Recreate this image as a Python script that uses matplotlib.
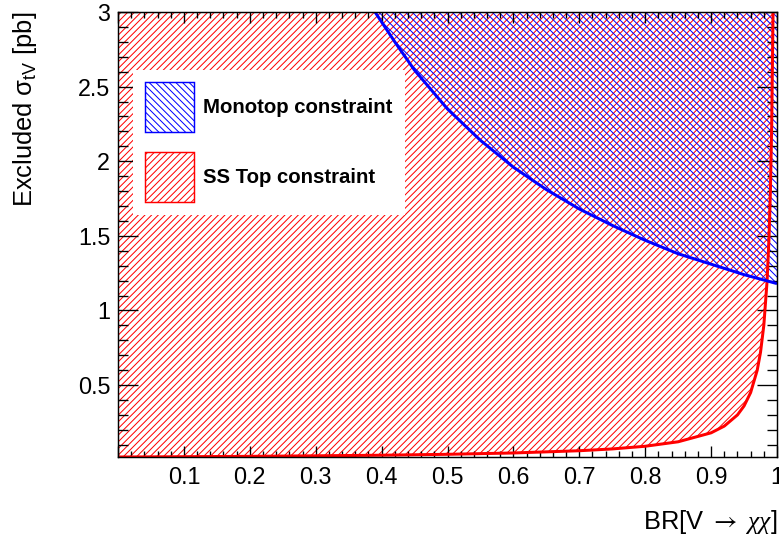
import numpy as np
import matplotlib
matplotlib.use('Agg')
import matplotlib.pyplot as plt
from matplotlib.patches import Patch
from matplotlib.ticker import MultipleLocator, FuncFormatter

plt.rcParams['font.family'] = ['Liberation Sans', 'DejaVu Sans']
plt.rcParams['mathtext.fontset'] = 'custom'
plt.rcParams['mathtext.rm'] = 'Liberation Sans'
plt.rcParams['mathtext.it'] = 'Liberation Serif:italic'
plt.rcParams['mathtext.cal'] = 'STIXGeneral'
plt.rcParams['hatch.linewidth'] = 0.9

# Monotop constraint (blue)
mono_br = [0.39, 0.42, 0.45, 0.50, 0.55, 0.60, 0.65, 0.70, 0.75, 0.80,
           0.85, 0.90, 0.95, 1.00]
mono_sigma = [3.00, 2.80, 2.61, 2.35, 2.14, 1.96, 1.81, 1.68, 1.57, 1.47,
              1.38, 1.31, 1.24, 1.18]

# SS top constraint (red)
ss_br = [0.0, 0.1, 0.2, 0.3, 0.4, 0.5, 0.6, 0.7, 0.75, 0.8, 0.85, 0.9,
         0.92, 0.94, 0.95, 0.96, 0.97, 0.975, 0.98, 0.985, 0.988, 0.99,
         0.992, 0.994]
ss_sigma = [0.018, 0.020, 0.0225, 0.026, 0.030, 0.036, 0.045, 0.060, 0.072,
            0.090, 0.120, 0.180, 0.225, 0.300, 0.360, 0.450, 0.600, 0.720,
            0.900, 1.200, 1.500, 1.800, 2.250, 3.000]

legend_labels = ['Monotop constraint', 'SS Top constraint']
y_top = 3.0

dpi = 80
fig = plt.figure(figsize=(779 / dpi, 539 / dpi), dpi=dpi)
ax = fig.add_axes([118 / 779, 82 / 539, 659 / 779, 445 / 539])

ax.fill_between(ss_br, ss_sigma, y_top, facecolor='none', edgecolor='red',
                hatch='////', linewidth=0)
ax.fill_between(mono_br, mono_sigma, y_top, facecolor='none', edgecolor='blue',
                hatch='\\\\\\\\', linewidth=0)
ax.plot(ss_br, ss_sigma, color='red', lw=2.7, solid_capstyle='butt')
ax.plot(mono_br, mono_sigma, color='blue', lw=2.7, solid_capstyle='butt')

ax.set_xlim(0, 1)
ax.set_ylim(0.018, 3)

ax.xaxis.set_major_locator(MultipleLocator(0.1))
ax.xaxis.set_minor_locator(MultipleLocator(0.02))
ax.yaxis.set_major_locator(MultipleLocator(0.5))
ax.yaxis.set_minor_locator(MultipleLocator(0.1))
# ROOT style: no label at 0
fmt = FuncFormatter(lambda v, p: '' if abs(v) < 1e-9 else '%g' % v)
ax.xaxis.set_major_formatter(fmt)
ax.yaxis.set_major_formatter(fmt)

ax.tick_params(which='both', direction='in', top=True, right=True,
               width=1.2, labelsize=21)
ax.tick_params(axis='x', which='major', length=10, pad=8)
ax.tick_params(axis='x', which='minor', length=5)
ax.tick_params(axis='y', which='major', length=18, pad=7)
ax.tick_params(axis='y', which='minor', length=9)
for s in ax.spines.values():
    s.set_linewidth(1.3)

ax.set_xlabel(r'BR[V $\mathcal{\rightarrow}$ $\chi\chi$]', loc='right',
              fontsize=23)
ax.xaxis.set_label_coords(1.0, -0.115)
ax.set_ylabel(r'Excluded $\mathrm{\sigma_{tV}}$ [pb]', loc='top', fontsize=23)
ax.yaxis.set_label_coords(-0.12, 1.0)

handles = [Patch(facecolor='white', edgecolor='blue', hatch='\\\\\\\\', lw=1.3),
           Patch(facecolor='white', edgecolor='red', hatch='////', lw=1.3)]
leg = ax.legend(handles, legend_labels,
                loc='upper left', bbox_to_anchor=(15 / 659, 387 / 445),
                borderaxespad=0, prop={'weight': 'bold', 'size': 18.3},
                handlelength=2.4, handleheight=3.4, labelspacing=1.0,
                borderpad=0.6, handletextpad=0.45, fancybox=False,
                framealpha=1, edgecolor='white')
leg.get_frame().set_linewidth(0)

fig.savefig('out.png', dpi=dpi)
